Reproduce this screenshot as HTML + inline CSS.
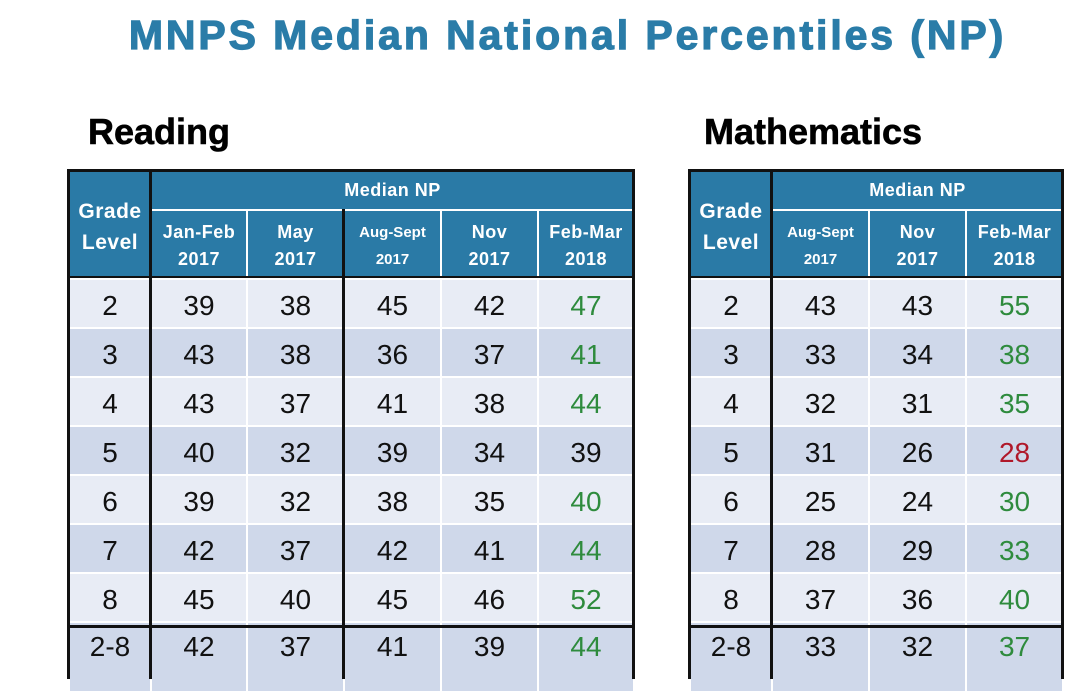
<!DOCTYPE html>
<html><head><meta charset="utf-8"><style>
body{margin:0;width:1070px;height:671px;overflow:hidden;background:#fff;font-family:"Liberation Sans",Arial,sans-serif;position:relative}
.t{position:absolute;top:170px}
table{border-collapse:collapse;table-layout:fixed}
td{padding:5px 0 0 0;text-align:center;border:2px solid #fff;font-size:28px;color:#111}
th{padding:0;text-align:center;border:2px solid #fff;background:#2a7aa6;color:#fff;font-weight:bold;font-size:18px;line-height:27px;letter-spacing:0.5px}
th.g{font-size:21px;line-height:31px;padding-top:4px}
th.s{font-size:15px;letter-spacing:0}
tr.h1 th{height:37px}
tr.h2 th{height:65px;padding-top:2px}
tr.b td{height:42px}
tr.last td{height:60px;vertical-align:top;padding-top:8px}
tr.l td{background:#e8ecf5}
tr.d td{background:#cfd8ea}
.g1{color:#2e8b3d}.r1{color:#b0182a}
.ln{position:absolute;background:#111}
h1{position:absolute;top:12px;left:0;width:1135px;margin:0;text-align:center;font-size:41px;letter-spacing:2.9px;color:#2a7ca8;font-weight:bold;-webkit-text-stroke:1.2px #2a7ca8}
.lab{position:absolute;top:111px;font-size:36px;font-weight:bold;-webkit-text-stroke:0.6px #000}
</style></head><body>
<h1>MNPS Median National Percentiles (NP)</h1>
<div class="lab" style="left:88px">Reading</div>
<div class="lab" style="left:704px">Mathematics</div>

<div class="t" style="left:68px">
<table style="width:565px">
<colgroup><col style="width:82px"><col style="width:96px"><col style="width:97px"><col style="width:97px"><col style="width:97px"><col style="width:96px"></colgroup>
<tr class="h1"><th rowspan="2" class="g">Grade<br>Level</th><th colspan="5">Median NP</th></tr>
<tr class="h2"><th>Jan-Feb<br>2017</th><th>May<br>2017</th><th class="s">Aug-Sept<br>2017</th><th>Nov<br>2017</th><th>Feb-Mar<br>2018</th></tr>
<tr class="b l"><td>2</td><td>39</td><td>38</td><td>45</td><td>42</td><td class="g1">47</td></tr>
<tr class="b d"><td>3</td><td>43</td><td>38</td><td>36</td><td>37</td><td class="g1">41</td></tr>
<tr class="b l"><td>4</td><td>43</td><td>37</td><td>41</td><td>38</td><td class="g1">44</td></tr>
<tr class="b d"><td>5</td><td>40</td><td>32</td><td>39</td><td>34</td><td>39</td></tr>
<tr class="b l"><td>6</td><td>39</td><td>32</td><td>38</td><td>35</td><td class="g1">40</td></tr>
<tr class="b d"><td>7</td><td>42</td><td>37</td><td>42</td><td>41</td><td class="g1">44</td></tr>
<tr class="b l"><td>8</td><td>45</td><td>40</td><td>45</td><td>46</td><td class="g1">52</td></tr>
<tr class="last d"><td>2-8</td><td>42</td><td>37</td><td>41</td><td>39</td><td class="g1">44</td></tr>
</table></div>

<div class="t" style="left:689px">
<table style="width:373px">
<colgroup><col style="width:82px"><col style="width:97px"><col style="width:97px"><col style="width:97px"></colgroup>
<tr class="h1"><th rowspan="2" class="g">Grade<br>Level</th><th colspan="3">Median NP</th></tr>
<tr class="h2"><th class="s">Aug-Sept<br>2017</th><th>Nov<br>2017</th><th>Feb-Mar<br>2018</th></tr>
<tr class="b l"><td>2</td><td>43</td><td>43</td><td class="g1">55</td></tr>
<tr class="b d"><td>3</td><td>33</td><td>34</td><td class="g1">38</td></tr>
<tr class="b l"><td>4</td><td>32</td><td>31</td><td class="g1">35</td></tr>
<tr class="b d"><td>5</td><td>31</td><td>26</td><td class="r1">28</td></tr>
<tr class="b l"><td>6</td><td>25</td><td>24</td><td class="g1">30</td></tr>
<tr class="b d"><td>7</td><td>28</td><td>29</td><td class="g1">33</td></tr>
<tr class="b l"><td>8</td><td>37</td><td>36</td><td class="g1">40</td></tr>
<tr class="last d"><td>2-8</td><td>33</td><td>32</td><td class="g1">37</td></tr>
</table></div>

<!-- reading black lines -->
<div class="ln" style="left:67px;top:169px;width:567px;height:3px"></div>
<div class="ln" style="left:67px;top:169px;width:3px;height:510px"></div>
<div class="ln" style="left:632px;top:169px;width:3px;height:510px"></div>
<div class="ln" style="left:149px;top:169px;width:3px;height:510px"></div>
<div class="ln" style="left:342px;top:209px;width:3px;height:470px"></div>
<div class="ln" style="left:67px;top:276px;width:567px;height:2px"></div>
<div class="ln" style="left:67px;top:625px;width:567px;height:3px"></div>
<!-- math black lines -->
<div class="ln" style="left:688px;top:169px;width:375px;height:3px"></div>
<div class="ln" style="left:688px;top:169px;width:3px;height:510px"></div>
<div class="ln" style="left:1061px;top:169px;width:3px;height:510px"></div>
<div class="ln" style="left:770px;top:169px;width:3px;height:510px"></div>
<div class="ln" style="left:688px;top:276px;width:375px;height:2px"></div>
<div class="ln" style="left:688px;top:625px;width:375px;height:3px"></div>
</body></html>
